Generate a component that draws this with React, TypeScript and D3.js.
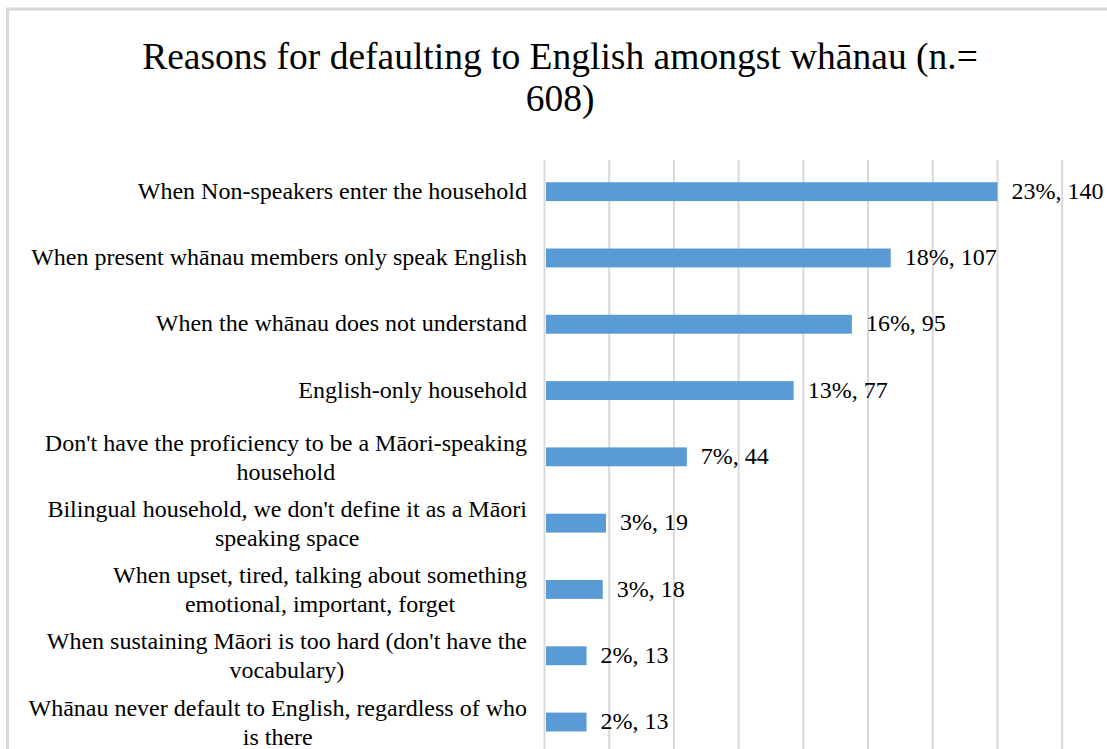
import React, { useEffect, useRef } from "react";
import * as d3 from "d3";

const categories: string[][] = [
  ["When Non-speakers enter the household"],
  ["When present whānau members only speak English"],
  ["When the whānau does not understand"],
  ["English-only household"],
  ["Don't have the proficiency to be a Māori-speaking", "household"],
  ["Bilingual household, we don't define it as a Māori", "speaking space"],
  ["When upset, tired, talking about something", "emotional, important, forget"],
  ["When sustaining Māori is too hard (don't have the", "vocabulary)"],
  ["Whānau never default to English, regardless of who", "is there"],
];
const counts: number[] = [140, 107, 95, 77, 44, 19, 18, 13, 13];
const percents: number[] = [23, 18, 16, 13, 7, 3, 3, 2, 2];
const gridTicks: number[] = [0, 20, 40, 60, 80, 100, 120, 140, 160];
const titleLines: string[] = ["Reasons for defaulting to English amongst whānau (n.=", "608)"];

const W = 1107;
const H = 749;
const FONT = "'Liberation Serif', 'Times New Roman', serif";

export default function App() {
  const ref = useRef<SVGSVGElement | null>(null);

  useEffect(() => {
    const svg = d3.select(ref.current);
    svg.selectAll("*").remove();

    const x = d3.scaleLinear().domain([0, 160]).range([544.5, 1062.2]);
    const keys = categories.map((_, i) => String(i));
    const y = d3
      .scaleBand<string>()
      .domain(keys)
      .range([158.5, 755.2])
      .paddingInner(0.715)
      .paddingOuter(0.3575);

    svg.append("rect").attr("x", 0).attr("y", 0).attr("width", W).attr("height", H).attr("fill", "#fff");

    // chart border
    svg
      .append("rect")
      .attr("x", 7.5)
      .attr("y", 9)
      .attr("width", 1200)
      .attr("height", 900)
      .attr("fill", "none")
      .attr("stroke", "#d9d9d9")
      .attr("stroke-width", 3);

    // title
    const title = svg
      .append("text")
      .attr("font-family", FONT)
      .attr("font-size", 37.5)
      .attr("fill", "#000")
      .attr("text-anchor", "middle");
    titleLines.forEach((t, i) => {
      title
        .append("tspan")
        .attr("x", 560)
        .attr("y", 69 + i * 42)
        .text(t);
    });

    // gridlines
    svg
      .append("g")
      .selectAll("line")
      .data(gridTicks)
      .join("line")
      .attr("x1", (d) => x(d))
      .attr("x2", (d) => x(d))
      .attr("y1", 160)
      .attr("y2", 760)
      .attr("stroke", "#d9d9d9")
      .attr("stroke-width", 2);

    // bars
    svg
      .append("g")
      .selectAll("rect")
      .data(counts)
      .join("rect")
      .attr("x", x(0) + 1.5)
      .attr("y", (_, i) => y(keys[i]) as number)
      .attr("width", (d) => x(d) - x(0) - 1.5)
      .attr("height", y.bandwidth())
      .attr("fill", "#5B9BD5");

    // data labels
    svg
      .append("g")
      .selectAll("text")
      .data(counts)
      .join("text")
      .attr("font-family", FONT)
      .attr("font-size", 24)
      .attr("fill", "#000")
      .attr("x", (d) => x(d) + 14)
      .attr("y", (_, i) => (y(keys[i]) as number) + y.bandwidth() / 2)
      .attr("dy", "0.3em")
      .text((d, i) => `${percents[i]}%, ${d}`);

    // category labels
    const right = 527;
    const lineH = 29;
    categories.forEach((lines, i) => {
      const cy = (y(keys[i]) as number) + y.bandwidth() / 2 + (lines.length > 1 ? 1 : 0);
      const g = svg.append("g");
      const texts = lines.map((l, j) =>
        g
          .append("text")
          .attr("font-family", FONT)
          .attr("font-size", 24)
          .attr("fill", "#000")
          .attr("text-anchor", "middle")
          .attr("y", cy + (j - (lines.length - 1) / 2) * lineH)
          .attr("dy", "0.3em")
          .text(l)
      );
      const widths = texts.map((t) => (t.node() as SVGTextElement).getComputedTextLength());
      const maxW = Math.max(...widths);
      texts.forEach((t) => t.attr("x", right - maxW / 2));
    });
  }, []);

  return (
    <svg
      ref={ref}
      width={W}
      height={H}
      style={{ position: "absolute", left: 0, top: 0, display: "block" }}
    />
  );
}
